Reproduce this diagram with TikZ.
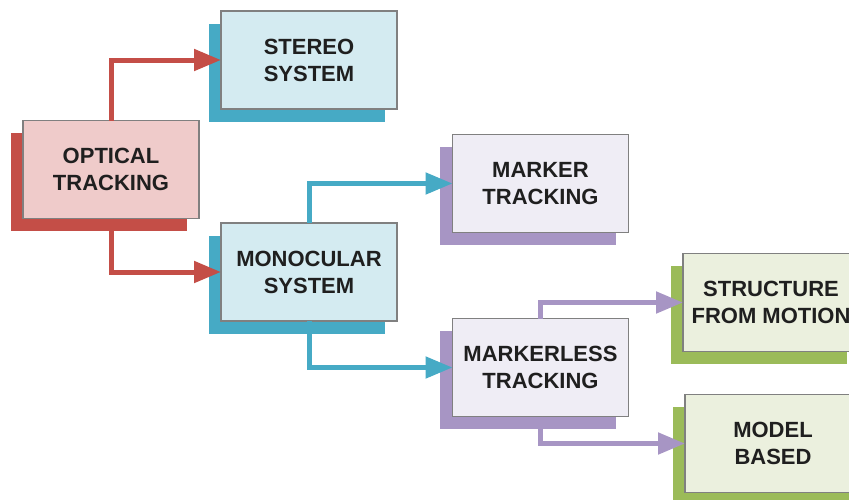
\documentclass[tikz,border=0pt]{standalone}
\usepackage{fontspec}
\setmainfont{Liberation Sans}
\usetikzlibrary{arrows.meta,shadows}

\definecolor{redline}{HTML}{C44E47}
\definecolor{redfill}{HTML}{EFCBCA}
\definecolor{cyanline}{HTML}{46AAC5}
\definecolor{cyanfill}{HTML}{D4EBF1}
\definecolor{purpline}{HTML}{A795C4}
\definecolor{purpfill}{HTML}{EFEDF5}
\definecolor{greenline}{HTML}{9BBB59}
\definecolor{greenfill}{HTML}{EBF0DE}
\definecolor{boxedge}{HTML}{808080}

\tikzset{
  box/.style={draw=boxedge, line width=1.3pt, minimum width=176pt, minimum height=98pt,
    align=center, inner sep=0pt, outer sep=0pt,
    font=\fontsize{22}{27}\selectfont\bfseries, text=black!88},
  shade/.style={general shadow={fill=#1, draw=none, shadow xshift=-12.5pt, shadow yshift=-12.5pt}},
  redbox/.style={box, fill=redfill, shade=redline},
  cyanbox/.style={box, fill=cyanfill, shade=cyanline},
  purpbox/.style={box, fill=purpfill, shade=purpline},
  greenbox/.style={box, fill=greenfill, shade=greenline},
  link/.style={draw=#1, line width=5pt, line join=miter,
    -{Triangle[length=27pt, width=21pt, fill=#1]}}
}

\begin{document}
\begin{tikzpicture}[x=1pt, y=-1pt]
  \useasboundingbox (0,0) rectangle (849,499);
  \clip (0,0) rectangle (849,499);

  % boxes, centred at their pixel positions
  \node[redbox]   (opt)    at (111,169.5) {OPTICAL\\TRACKING};
  \node[cyanbox]  (stereo) at (309,60)    {STEREO\\SYSTEM};
  \node[cyanbox]  (mono)   at (309,272)   {MONOCULAR\\SYSTEM};
  \node[purpbox]  (marker) at (540.5,183.5) {MARKER\\TRACKING};
  \node[purpbox]  (mless)  at (540.5,367.5) {MARKERLESS\\TRACKING};
  \node[greenbox] (sfm)    at (771,302.5) {STRUCTURE\\FROM MOTION};
  \node[greenbox] (model)  at (773,443.5) {MODEL\\BASED};

  % connectors
  \draw[link=redline]   (opt.north)   |- (stereo.west);
  \draw[link=redline]   (opt.south)   |- (mono.west);
  \draw[link=cyanline]  (mono.north)  |- (marker.west);
  \draw[link=cyanline]  (mono.south)  |- (mless.west);
  \draw[link=purpline]  (mless.north) |- (sfm.west);
  \draw[link=purpline]  (mless.south) |- (model.west);
\end{tikzpicture}
\end{document}
